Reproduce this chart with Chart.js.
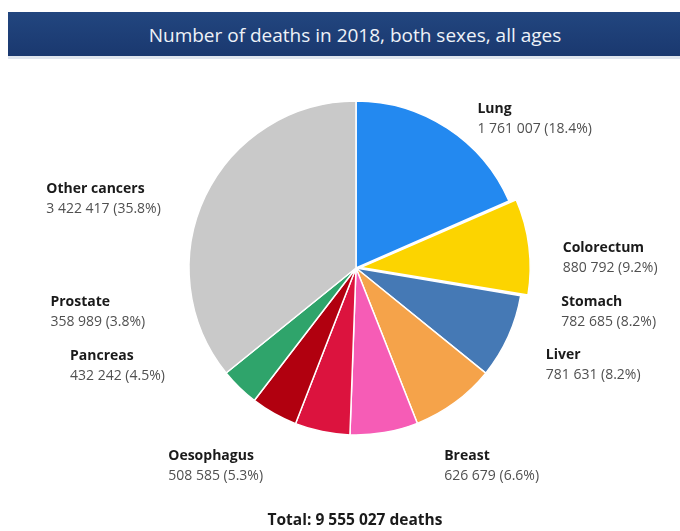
<!DOCTYPE html>
<html>
<head>
<meta charset="utf-8">
<script src="https://cdn.jsdelivr.net/npm/chart.js@4"></script>
<style>
  html, body { margin: 0; padding: 0; background: #ffffff; }
  #wrap { position: relative; width: 680px; height: 531px; overflow: hidden; }
  #banner {
    position: absolute; left: 8px; top: 12px; width: 672px; height: 47px;
    background: linear-gradient(#22467f, #1a386f);
    border-bottom: 3px solid #dfe5ee;
    color: #eef2f8; font-family: "Open Sans", sans-serif; font-size: 19px;
    line-height: 46px; text-align: center; box-sizing: border-box; padding-left: 22px;
  }
  #c { position: absolute; left: 0; top: 0; }
</style>
</head>
<body>
<div id="wrap">
  <canvas id="c" width="680" height="531"></canvas>
  <div id="banner">Number of deaths in 2018, both sexes, all ages</div>
</div>
<script>
const categories = ["Lung", "Colorectum", "Stomach", "Liver", "Breast", "Oesophagus", "Pancreas", "Prostate", "Other cancers"];
const deaths = [1761007, 880792, 782685, 781631, 626679, 508585, 432242, 358989, 3422417];
const colors = ["#2389f0", "#fcd400", "#4579b5", "#f5a34a", "#f65cb6", "#dc133e", "#b1000f", "#2fa46b", "#c9c9c9"];
const sliceOffsets = [0, 20, 0, 0, 0, 0, 0, 0, 0];
// label offsets (dx, dy) from each slice's outer mid-point to the name's left/baseline
const labelOffsets = [[30, -15], [41, 5], [53, -31], [91, -44], [60, 27], [-154, 28], [-204, -54], [-189, -82], [-159, -3]];
const totalLabel = "Total: 9 555 027 deaths";

function fmt(n) { return String(n).replace(/\B(?=(\d{3})+(?!\d))/g, " "); }
const total = deaths.reduce((a, b) => a + b, 0);

const labelPlugin = {
  id: 'sliceLabels',
  afterDraw(chart) {
    const ctx = chart.ctx;
    const meta = chart.getDatasetMeta(0);
    ctx.save();
    ctx.textAlign = 'left';
    ctx.textBaseline = 'alphabetic';
    meta.data.forEach((arc, i) => {
      const p = arc.getProps(['x', 'y', 'startAngle', 'endAngle', 'outerRadius'], true);
      const mid = (p.startAngle + p.endAngle) / 2;
      const ax = p.x + Math.cos(mid) * p.outerRadius;
      const ay = p.y + Math.sin(mid) * p.outerRadius;
      const tx = ax + labelOffsets[i][0];
      const ty = ay + labelOffsets[i][1];
      ctx.fillStyle = '#1a1a1a';
      ctx.font = 'bold 14px "Open Sans", sans-serif';
      ctx.fillText(categories[i], tx, ty);
      ctx.fillStyle = '#505050';
      ctx.font = '14px "Open Sans", sans-serif';
      const pct = (deaths[i] / total * 100).toFixed(1);
      ctx.fillText(fmt(deaths[i]) + ' (' + pct + '%)', tx, ty + 20);
    });
    const a0 = meta.data[0];
    ctx.textAlign = 'center';
    ctx.fillStyle = '#1a1a1a';
    ctx.font = 'bold 15.5px "Open Sans", sans-serif';
    ctx.fillText(totalLabel, a0.x - 1, a0.y + 257);
    ctx.restore();
  }
};

new Chart(document.getElementById('c'), {
  type: 'pie',
  data: {
    labels: categories,
    datasets: [{
      data: deaths,
      backgroundColor: colors,
      borderColor: '#ffffff',
      borderWidth: 1.5,
      offset: sliceOffsets,
      hoverOffset: 0
    }]
  },
  options: {
    responsive: false,
    animation: false,
    layout: { padding: { left: 178.25, right: 146.25, top: 90.25, bottom: 85.25 } },
    plugins: { legend: { display: false }, title: { display: false }, tooltip: { enabled: false } }
  },
  plugins: [labelPlugin]
});
</script>
</body>
</html>
